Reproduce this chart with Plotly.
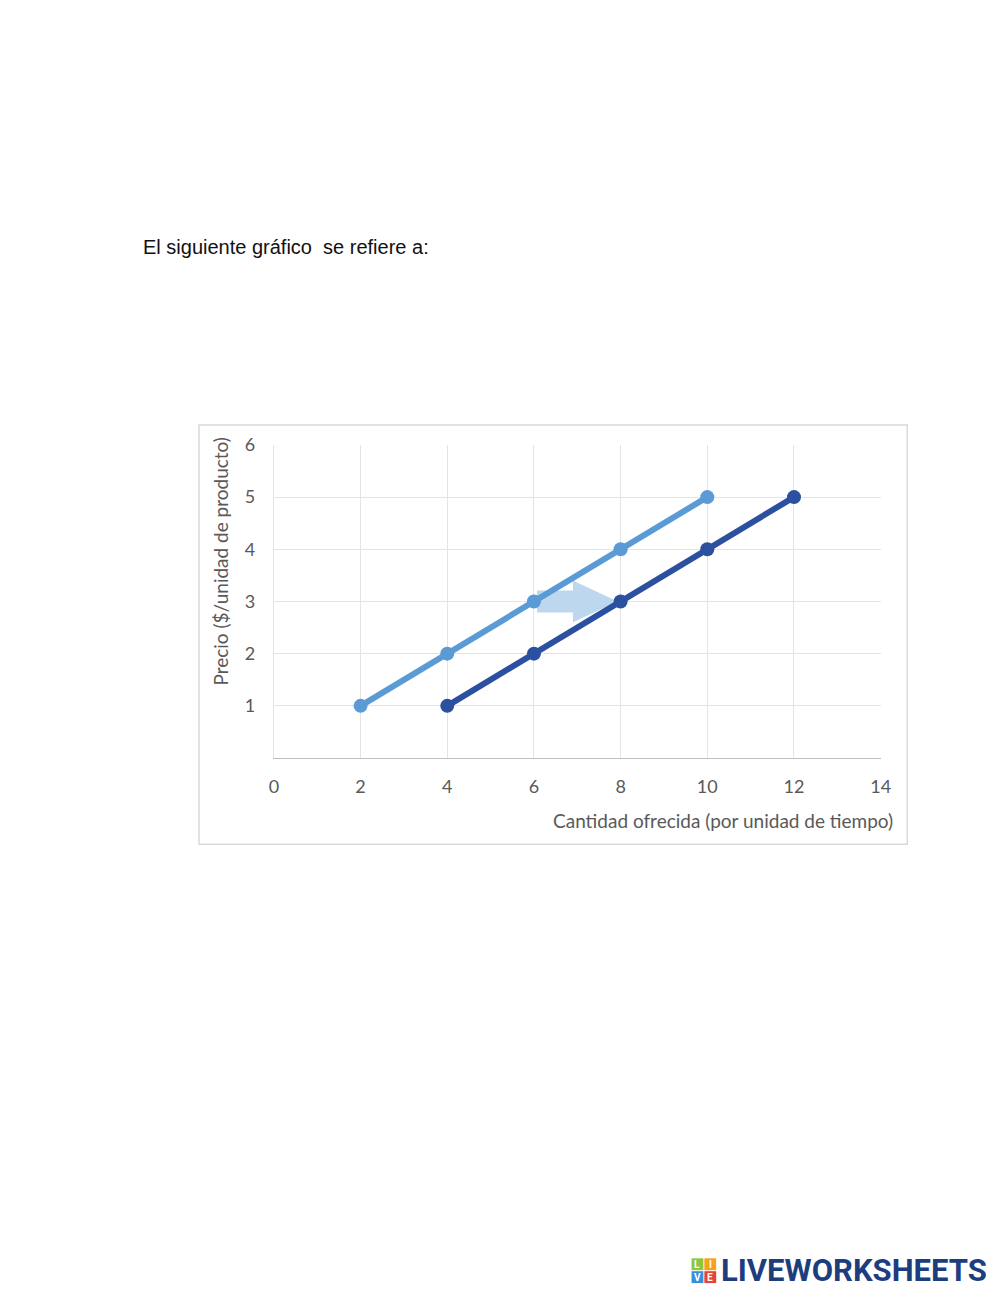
# Supply shift chart (worksheet style), rebuilt with plotly

import plotly.graph_objects as go

# -------------------------------------------------------|
# Data

cantidad_inicial = [2, 4, 6, 8, 10]
cantidad_nueva = [4, 6, 8, 10, 12]
precio = [1, 2, 3, 4, 5]

x_ticks = [0, 2, 4, 6, 8, 10, 12, 14]
y_ticks = [1, 2, 3, 4, 5, 6]

# Block arrow showing the shift, in data units
arrow_x = [6.07, 6.9, 7.93]   # tail, head start, tip
arrow_y = 3.0
arrow_shaft = 0.21
arrow_head = 0.40

W, H = 1000, 1291

def px(x): return x / W
def py(y): return 1 - y / H

LIGHT = "#5b9bd5"
DARK = "#2c50a0"
GREY = "#595959"

fig = go.Figure()

for name, xs, color in [("Oferta inicial", cantidad_inicial, LIGHT),
                        ("Oferta nueva", cantidad_nueva, DARK)]:
    fig.add_trace(go.Scatter(
        x=xs, y=precio, name=name,
        mode="lines+markers",
        line=dict(color=color, width=6),
        marker=dict(color=color, size=14),
        showlegend=False,
        cliponaxis=False,
    ))

# Arrow path
t, h, tip = arrow_x
path = (f"M {t},{arrow_y - arrow_shaft} L {h},{arrow_y - arrow_shaft} "
        f"L {h},{arrow_y - arrow_head} L {tip},{arrow_y} "
        f"L {h},{arrow_y + arrow_head} L {h},{arrow_y + arrow_shaft} "
        f"L {t},{arrow_y + arrow_shaft} Z")

shapes = [
    # chart frame
    dict(type="rect", xref="paper", yref="paper",
         x0=px(197), x1=px(916), y0=py(840), y1=py(417),
         line=dict(color="#d9d9d9", width=1.5), fillcolor="rgba(0,0,0,0)",
         layer="below"),
    dict(type="path", xref="x", yref="y", path=path,
         fillcolor="#bdd7ee", line=dict(width=0), layer="between"),
]

# Logo squares (L I V E)
logo = [("L", "#8dc63f", 697, 1258), ("I", "#f7a21b", 710, 1258),
        ("V", "#3a8fd9", 697, 1271), ("E", "#e8413c", 710, 1271)]
annotations = []
for letter, col, lx, ly in logo:
    shapes.append(dict(type="rect", xref="paper", yref="paper",
                       x0=px(lx), x1=px(lx + 12), y0=py(ly + 12), y1=py(ly),
                       fillcolor=col, line=dict(width=0)))
    annotations.append(dict(x=px(lx + 6), y=py(ly + 6), xref="paper", yref="paper",
                            xanchor="center", yanchor="middle",
                            text=f"<b>{letter}</b>", showarrow=False,
                            font=dict(family="Roboto", size=10, color="white")))

annotations += [
    dict(x=px(138), y=py(237), xref="paper", yref="paper",
         xanchor="left", yanchor="middle",
         text="El siguiente gráfico  se refiere a:", showarrow=False,
         font=dict(family="Liberation Sans", size=20, color="#111111")),
    dict(x=px(219), y=py(555), xref="paper", yref="paper", textangle=-90,
         xanchor="center", yanchor="middle",
         text="Precio ($/unidad de producto)", showarrow=False,
         font=dict(family="Lato", size=19, color=GREY)),
    dict(x=px(904), y=py(816), xref="paper", yref="paper",
         xanchor="right", yanchor="middle",
         text="Cantidad ofrecida (por unidad de tiempo)", showarrow=False,
         font=dict(family="Lato", size=19, color=GREY)),
    dict(x=px(725), y=py(1270), xref="paper", yref="paper",
         xanchor="left", yanchor="middle",
         text="<b>LIVEWORKSHEETS</b>", showarrow=False,
         font=dict(family="Roboto", size=31, color="#1c3d7e")),
]

fig.update_layout(
    width=W, height=H,
    margin=dict(l=0, r=0, t=0, b=0),
    paper_bgcolor="white", plot_bgcolor="white",
    shapes=shapes, annotations=annotations,
    xaxis=dict(domain=[px(273), px(889)], range=[0, 14], tickvals=x_ticks,
               showgrid=True, gridcolor="#e4e4e4", zeroline=False,
               showline=True, linecolor="#bfbfbf", linewidth=1,
               ticklabelstandoff=12,
               tickfont=dict(family="Lato", size=18, color=GREY)),
    yaxis=dict(domain=[py(753), py(437)], range=[0, 6], tickvals=y_ticks,
               showgrid=True, gridcolor="#e4e4e4", zeroline=False,
               showline=True, linecolor="#e4e4e4", linewidth=1,
               ticklabelstandoff=14,
               tickfont=dict(family="Lato", size=18, color=GREY)),
)

fig.write_html("out.html", config={"displayModeBar": False},
               post_script="document.body.style.margin='0';")
